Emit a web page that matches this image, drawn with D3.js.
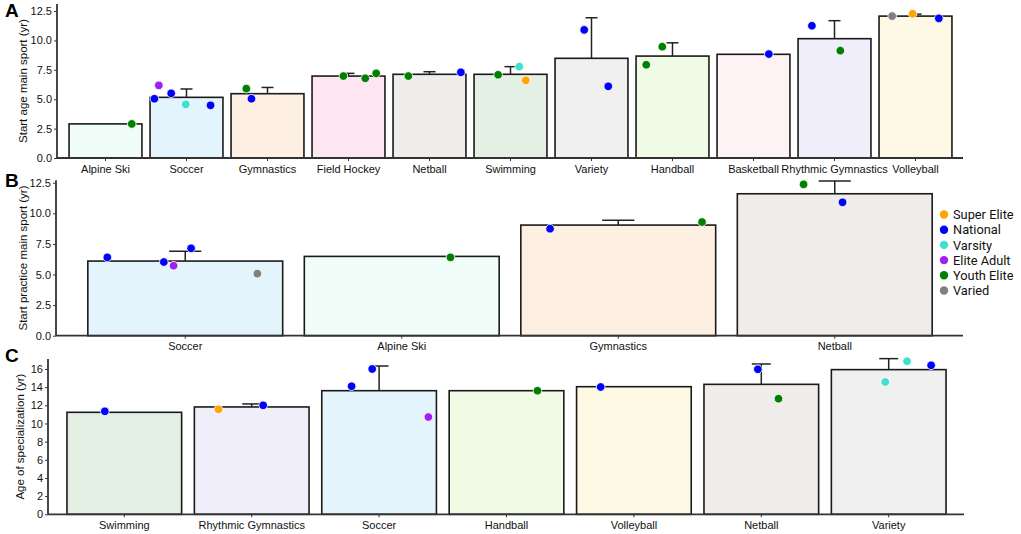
<!DOCTYPE html>
<html>
<head>
<meta charset="utf-8">
<script src="https://cdn.jsdelivr.net/npm/d3@7/dist/d3.min.js"></script>
<style>
    body { margin: 0; background: #fff; }
    .tick text { font-family: "Liberation Sans", Arial, sans-serif; font-size: 11px; fill: #111; }
    .ylab { font-family: "Liberation Sans", Arial, sans-serif; font-size: 11.5px; fill: #111; }
    .panel-letter { font-family: "Liberation Sans", Arial, sans-serif; font-size: 19px; font-weight: bold; }
    .legend text { font-family: Roboto, "Noto Sans", sans-serif; font-size: 12.8px; fill: #111; }
</style>
</head>
<body>
<svg id="chart" width="1021" height="534"></svg>
<script>
// competition levels (legend)
var levels = ["Super Elite", "National", "Varsity", "Elite Adult", "Youth Elite", "Varied"];
var levelColors = ["#ffa500", "#0000ff", "#40e0d0", "#a020f0", "#008000", "#808080"];

// panel A: start age main sport
var sportsA = ["Alpine Ski", "Soccer", "Gymnastics", "Field Hockey", "Netball", "Swimming",
               "Variety", "Handball", "Basketball", "Rhythmic Gymnastics", "Volleyball"];
var meanA = [2.9, 5.16, 5.47, 6.97, 7.12, 7.12, 8.48, 8.67, 8.82, 10.15, 12.07];
var errA  = [null, 5.87, 6.0, 7.2, 7.34, 7.77, 11.93, 9.8, null, 11.68, 12.24];
var fillA = ["#f0fdf8", "#e3f4fc", "#fdf0e3", "#fde5f1", "#f0ece9", "#e5f0e5",
             "#f0f0f0", "#f0fbe5", "#fdf3f5", "#f0eefa", "#fdf9e5"];
// [sport, level, value, jitter (fraction of bar width)]
var pointsA = [
    ["Alpine Ski", "Youth Elite", 2.9, 0.36],
    ["Soccer", "Elite Adult", 6.18, -0.38],
    ["Soccer", "National", 5.04, -0.44],
    ["Soccer", "National", 5.5, -0.21],
    ["Soccer", "Varsity", 4.56, -0.01],
    ["Soccer", "National", 4.48, 0.33],
    ["Gymnastics", "Youth Elite", 5.9, -0.29],
    ["Gymnastics", "National", 5.04, -0.22],
    ["Field Hockey", "Youth Elite", 6.97, -0.07],
    ["Field Hockey", "Youth Elite", 6.78, 0.23],
    ["Field Hockey", "Youth Elite", 7.2, 0.38],
    ["Netball", "Youth Elite", 6.97, -0.29],
    ["Netball", "National", 7.29, 0.43],
    ["Swimming", "Youth Elite", 7.08, -0.17],
    ["Swimming", "Varsity", 7.77, 0.12],
    ["Swimming", "Super Elite", 6.6, 0.21],
    ["Variety", "National", 10.9, -0.1],
    ["Variety", "National", 6.1, 0.23],
    ["Handball", "Youth Elite", 9.47, -0.14],
    ["Handball", "Youth Elite", 7.93, -0.36],
    ["Basketball", "National", 8.84, 0.21],
    ["Rhythmic Gymnastics", "National", 11.25, -0.31],
    ["Rhythmic Gymnastics", "Youth Elite", 9.13, 0.08],
    ["Volleyball", "Varied", 12.07, -0.32],
    ["Volleyball", "Super Elite", 12.27, -0.04],
    ["Volleyball", "National", 11.88, 0.32]
];
var ticksA = [0, 2.5, 5, 7.5, 10, 12.5];

// panel B: start practice main sport
var sportsB = ["Soccer", "Alpine Ski", "Gymnastics", "Netball"];
var meanB = [6.1, 6.48, 9.04, 11.6];
var errB  = [6.9, null, 9.43, 12.64];
var fillB = ["#e3f4fc", "#f0fdf8", "#fdf0e3", "#f0ece9"];
var pointsB = [
    ["Soccer", "National", 6.4, -0.4],
    ["Soccer", "National", 6.02, -0.11],
    ["Soccer", "Elite Adult", 5.72, -0.06],
    ["Soccer", "National", 7.14, 0.03],
    ["Soccer", "Varied", 5.07, 0.37],
    ["Alpine Ski", "Youth Elite", 6.4, 0.25],
    ["Gymnastics", "National", 8.74, -0.35],
    ["Gymnastics", "Youth Elite", 9.29, 0.43],
    ["Netball", "Youth Elite", 12.37, -0.16],
    ["Netball", "National", 10.9, 0.04]
];
var ticksB = [0, 2.5, 5, 7.5, 10, 12.5];

// panel C: age of specialization
var sportsC = ["Swimming", "Rhythmic Gymnastics", "Soccer", "Handball", "Volleyball", "Netball", "Variety"];
var meanC = [11.23, 11.82, 13.61, 13.61, 14.05, 14.31, 15.93];
var errC  = [null, 12.15, 16.33, null, null, 16.55, 17.14];
var fillC = ["#e5f0e5", "#f0eefa", "#e3f4fc", "#f0fbe5", "#fdf9e5", "#f0ece9", "#f0f0f0"];
var pointsC = [
    ["Swimming", "National", 11.34, -0.17],
    ["Rhythmic Gymnastics", "Super Elite", 11.56, -0.29],
    ["Rhythmic Gymnastics", "National", 12.0, 0.1],
    ["Soccer", "National", 14.1, -0.24],
    ["Soccer", "National", 16.0, -0.06],
    ["Soccer", "Elite Adult", 10.71, 0.43],
    ["Handball", "Youth Elite", 13.61, 0.27],
    ["Volleyball", "National", 14.02, -0.29],
    ["Netball", "National", 15.97, -0.03],
    ["Netball", "Youth Elite", 12.73, 0.15],
    ["Variety", "Varsity", 16.85, 0.16],
    ["Variety", "Varsity", 14.57, -0.03],
    ["Variety", "National", 16.41, 0.37]
];
var ticksC = [0, 2, 4, 6, 8, 10, 12, 14, 16];

var svg = d3.select("#chart");
var color = d3.scaleOrdinal().domain(levels).range(levelColors);

function draw_panel(p) {
    var g = svg.append("g");

    var x = d3.scaleBand()
        .domain(p.sports)
        .range(p.xr)
        .paddingInner(0.1)
        .paddingOuter(0.05);
    var y = d3.scaleLinear().domain([0, p.ymax]).range(p.yr);

    // bars
    g.selectAll("rect.bar")
        .data(p.sports)
        .enter().append("rect")
        .attr("class", "bar")
        .attr("x", function(d) { return x(d); })
        .attr("y", function(d, i) { return y(p.mean[i]); })
        .attr("width", x.bandwidth())
        .attr("height", function(d, i) { return y(0) - y(p.mean[i]); })
        .style("fill", function(d, i) { return p.fill[i]; })
        .style("stroke", "#1a1a1a")
        .style("stroke-width", 1.6);

    // error bars (upper only)
    var cap = x.bandwidth() * 0.165;
    p.sports.forEach(function(s, i) {
        if (p.err[i] == null) return;
        var cx = x(s) + x.bandwidth() / 2;
        g.append("line")
            .attr("x1", cx).attr("x2", cx)
            .attr("y1", y(p.mean[i])).attr("y2", y(p.err[i]))
            .style("stroke", "#222").style("stroke-width", 1.5);
        g.append("line")
            .attr("x1", cx - cap / 2).attr("x2", cx + cap / 2)
            .attr("y1", y(p.err[i])).attr("y2", y(p.err[i]))
            .style("stroke", "#222").style("stroke-width", 1.5);
    });

    // individual study points
    g.selectAll("circle.pt")
        .data(p.points)
        .enter().append("circle")
        .attr("class", "pt")
        .attr("cx", function(d) { return x(d[0]) + x.bandwidth() * (0.5 + d[3]); })
        .attr("cy", function(d) { return y(d[2]); })
        .attr("r", 4.3)
        .style("fill", function(d) { return color(d[1]); })
        .style("stroke", "#fff")
        .style("stroke-width", 0.8);

    // axes
    var xa = g.append("g")
        .attr("transform", "translate(0," + p.yr[0] + ")")
        .call(d3.axisBottom(x).tickSize(3).tickPadding(4));
    xa.select(".domain").remove();
    xa.selectAll(".tick line").style("stroke", "#333");
    xa.append("line")
        .attr("x1", p.axisX).attr("x2", p.xEnd)
        .style("stroke", "#333").style("stroke-width", 1.8);

    var ya = g.append("g")
        .attr("transform", "translate(" + p.axisX + ",0)")
        .call(d3.axisLeft(y).tickValues(p.ticks).tickSize(3).tickPadding(2)
            .tickFormat(p.fmt));
    ya.select(".domain").remove();
    ya.selectAll(".tick line").style("stroke", "#333");
    ya.append("line")
        .attr("y1", p.yr[0]).attr("y2", p.yr[1])
        .style("stroke", "#333").style("stroke-width", 1.8);

    g.append("text")
        .attr("class", "ylab")
        .attr("transform", "translate(" + p.labX + "," + ((p.yr[0] + p.yr[1]) / 2) + ") rotate(-90)")
        .attr("text-anchor", "middle")
        .text(p.ylabel);

    g.append("text")
        .attr("class", "panel-letter")
        .attr("x", p.letterX).attr("y", p.letterY)
        .text(p.letter);
}

draw_panel({
    sports: sportsA, mean: meanA, err: errA, fill: fillA, points: pointsA, ticks: ticksA,
    fmt: d3.format(".1f"), ymax: 13.1, xr: [65, 956], yr: [158, 4], axisX: 57, xEnd: 963,
    ylabel: "Start age main sport (yr)", labX: 27, letter: "A", letterX: 5, letterY: 17
});
draw_panel({
    sports: sportsB, mean: meanB, err: errB, fill: fillB, points: pointsB, ticks: ticksB,
    fmt: d3.format(".1f"), ymax: 12.7, xr: [77, 943], yr: [335.7, 180.3], axisX: 56, xEnd: 963,
    ylabel: "Start practice main sport (yr)", labX: 27, letter: "B", letterX: 5, letterY: 187
});
draw_panel({
    sports: sportsC, mean: meanC, err: errC, fill: fillC, points: pointsC, ticks: ticksC,
    fmt: d3.format("d"), ymax: 17.1, xr: [60.6, 952.4], yr: [514.3, 359], axisX: 48, xEnd: 964,
    ylabel: "Age of specialization (yr)", labX: 24, letter: "C", letterX: 5, letterY: 362
});

// legend
var legend = svg.append("g").attr("class", "legend");
var ly = d3.scalePoint().domain(levels).range([214.5, 290.5]);
legend.selectAll("circle")
    .data(levels)
    .enter().append("circle")
    .attr("cx", 944)
    .attr("cy", function(d) { return ly(d); })
    .attr("r", 4.2)
    .style("fill", function(d) { return color(d); });
legend.selectAll("text")
    .data(levels)
    .enter().append("text")
    .attr("x", 953)
    .attr("y", function(d) { return ly(d) + 4.6; })
    .text(function(d) { return d; });
</script>
</body>
</html>
